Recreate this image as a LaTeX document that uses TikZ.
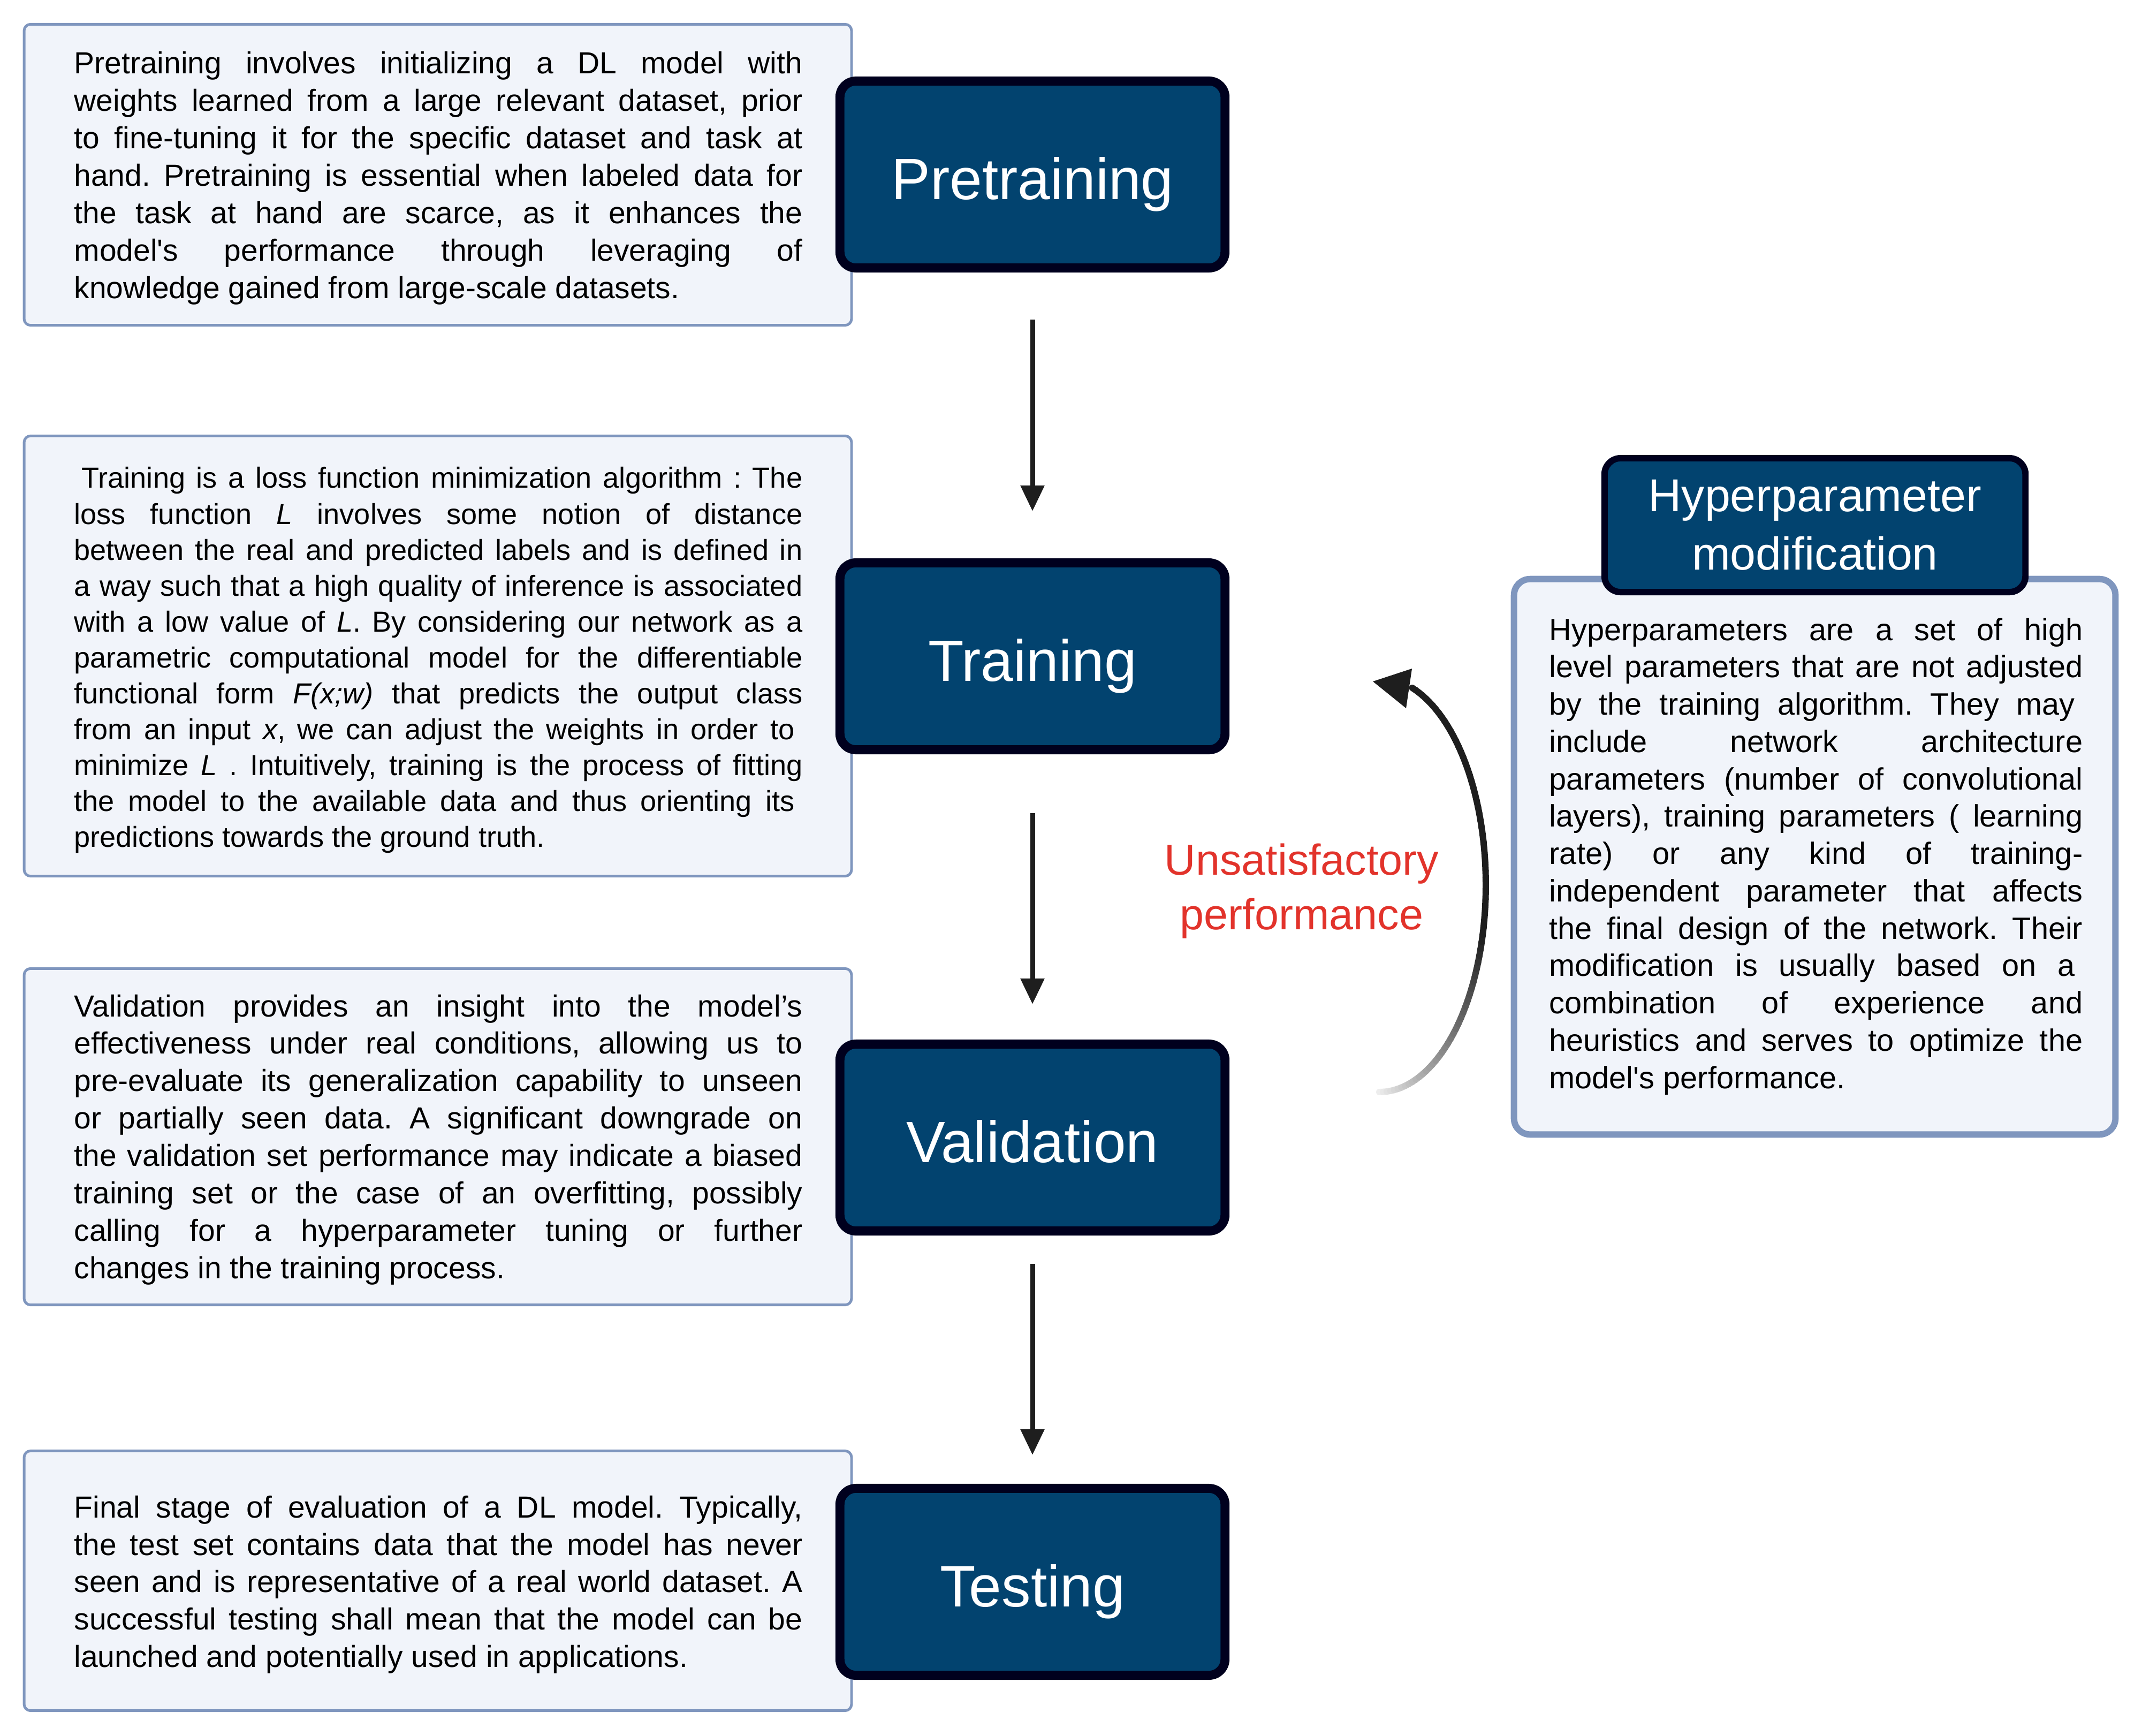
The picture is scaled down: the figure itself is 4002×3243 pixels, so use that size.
\documentclass[tikz,border=0pt]{standalone}
\usepackage{fontspec}
\setmainfont{Liberation Sans}
\usetikzlibrary{arrows.meta}
\definecolor{boxfill}{HTML}{F1F4FA}
\definecolor{boxline}{HTML}{7F96BE}
\definecolor{darkfill}{HTML}{02436F}
\definecolor{darkline}{HTML}{00001E}
\definecolor{arrowc}{HTML}{1E1E1E}
\definecolor{redc}{HTML}{E2332B}
\newcommand\jl[1]{\hbox to\linewidth{\spaceskip=0.278em plus 1fil minus 0.06em\relax#1}}
\newcommand\js[1]{\hbox to\dimexpr\linewidth-0.15cm\relax{\spaceskip=0.278em plus 1fil minus 0.06em\relax#1}}
\newcommand\je[1]{\hbox{\spaceskip=0.278em minus 0.06em\relax#1}}
\newcommand\qs{\textquotesingle}
\tikzset{
  infobox/.style={draw=boxline, fill=boxfill, line width=1.4pt, rounded corners=0.12cm, minimum width=15.45cm, inner sep=0pt},
  stagebox/.style={draw=darkline, fill=darkfill, line width=4.8pt, rounded corners=0.3cm, minimum width=7.19cm, minimum height=3.49cm, inner sep=0pt, text=white, font=\fontsize{31}{37}\selectfont, text height=26.7pt, text depth=0pt},
  titlebox/.style={draw=darkline, fill=darkfill, line width=3.4pt, rounded corners=0.3cm, minimum width=7.86cm, minimum height=2.5cm, inner sep=0pt, text=white, align=center, font=\fontsize{24.5}{31}\selectfont},
  hyperbox/.style={draw=boxline, fill=boxfill, line width=3.4pt, rounded corners=0.3cm, minimum width=11.23cm, minimum height=10.37cm, inner sep=0pt},
  bodytext/.style={anchor=base, inner sep=0pt},
  flowarrow/.style={draw=arrowc, line width=2.56pt, -{Triangle[length=0.48cm,width=0.43cm]}},
  redlabel/.style={text=redc, align=center, inner sep=0pt, font=\fontsize{23}{29}\selectfont}
}
\begin{document}
\begin{tikzpicture}[x=0.01cm,y=-0.01cm]
\useasboundingbox (0,0) rectangle (4002,3243);
\fill[white] (0,0) rectangle (4002,3243);

% left description boxes
\node[infobox, minimum height=5.62cm] (prebox) at (818,326.5) {};
\node[infobox, minimum height=8.22cm] (trainbox) at (818,1225.5) {};
\node[infobox, minimum height=6.28cm] (valbox) at (818,2123.5) {};
\node[infobox, minimum height=4.85cm] (testbox) at (818,2953) {};

\node[bodytext] (pretext) at (819,138) {\parbox[t]{13.6cm}{\fontsize{16.2}{19.9}\selectfont\frenchspacing
\jl{Pretraining involves initializing a DL model with}
\jl{weights learned from a large relevant dataset, prior}
\jl{to fine-tuning it for the specific dataset and task at}
\jl{hand. Pretraining is essential when labeled data for}
\jl{the task at hand are scarce, as it enhances the}
\jl{model\qs s performance through leveraging of}
\je{knowledge gained from large-scale datasets.}}};

\node[bodytext] (traintext) at (819,912) {\parbox[t]{13.6cm}{\fontsize{15.4}{19.06}\selectfont\frenchspacing
\jl{\kern0.14cm Training is a loss function minimization algorithm : The}
\jl{loss function \textit{L} involves some notion of distance}
\jl{between the real and predicted labels and is defined in}
\jl{a way such that a high quality of inference is associated}
\jl{with a low value of \textit{L}. By considering our network as a}
\jl{parametric computational model for the differentiable}
\jl{functional form \textit{F(x;w)} that predicts the output class}
\js{from an input \textit{x}, we can adjust the weights in order to}
\jl{minimize \textit{L} . Intuitively, training is the process of fitting}
\js{the model to the available data and thus orienting its}
\je{predictions towards the ground truth.}}};

\node[bodytext] (valtext) at (819,1899) {\parbox[t]{13.6cm}{\fontsize{16.2}{19.9}\selectfont\frenchspacing
\jl{Validation provides an insight into the model’s}
\jl{effectiveness under real conditions, allowing us to}
\jl{pre-evaluate its generalization capability to unseen}
\jl{or partially seen data. A significant downgrade on}
\jl{the validation set performance may indicate a biased}
\jl{training set or the case of an overfitting, possibly}
\jl{calling for a hyperparameter tuning or further}
\je{changes in the training process.}}};

\node[bodytext] (testtext) at (819,2835) {\parbox[t]{13.6cm}{\fontsize{16.2}{19.9}\selectfont\frenchspacing
\jl{Final stage of evaluation of a DL model. Typically,}
\jl{the test set contains data that the model has never}
\jl{seen and is representative of a real world dataset. A}
\jl{successful testing shall mean that the model can be}
\je{launched and potentially used in applications.}}};

% stage boxes
\node[stagebox] (pre) at (1929,326) {Pretraining};
\node[stagebox] (train) at (1929,1226) {Training};
\node[stagebox] (val) at (1929,2125) {Validation};
\node[stagebox] (test) at (1929,2955) {Testing};

% flow arrows
\draw[flowarrow, shorten <=0.88cm, shorten >=0.88cm] (pre.south) -- (train.north);
\draw[flowarrow, shorten <=1.10cm, shorten >=0.66cm] (train.south) -- (val.north);
\draw[flowarrow, shorten <=0.53cm, shorten >=0.54cm] (val.south) -- (test.north);

% hyperparameter box
\node[hyperbox] (hypbox) at (3390.5,1600.5) {};
\node[bodytext] (hyptext) at (3393,1196) {\parbox[t]{9.96cm}{\fontsize{16.4}{19.84}\selectfont\frenchspacing
\jl{Hyperparameters are a set of high}
\jl{level parameters that are not adjusted}
\js{by the training algorithm. They may}
\jl{include network architecture}
\jl{parameters (number of convolutional}
\jl{layers), training parameters ( learning}
\jl{rate) or any kind of training-}
\jl{independent parameter that affects}
\jl{the final design of the network. Their}
\js{modification is usually based on a}
\jl{combination of experience and}
\jl{heuristics and serves to optimize the}
\je{model\qs s performance.}}};
\node[titlebox] (hyptitle) at (3391,981) {Hyperparameter\\modification};

% feedback loop arrow with fading tail
\coordinate (loopstart) at (2577,2040);
\coordinate (looptip) at (2565,1273);
\foreach \t in {90,88,...,-70} {
  \pgfmathsetmacro\g{max(0.118,0.93-0.81*(90-\t)/75)}
  \definecolor{arcc}{gray}{\g}
  \draw[arcc, line width=3.4pt, line cap=round] ({2577+199*cos(\t)},{1653+387*sin(\t)}) -- ({2577+199*cos(\t-2)},{1653+387*sin(\t-2)});
}
\fill[arrowc] (looptip) -- (2638,1249) -- (2627,1323) -- cycle;

\node[redlabel] (unsat) at (2432,1665) {Unsatisfactory\\performance};
\end{tikzpicture}
\end{document}
